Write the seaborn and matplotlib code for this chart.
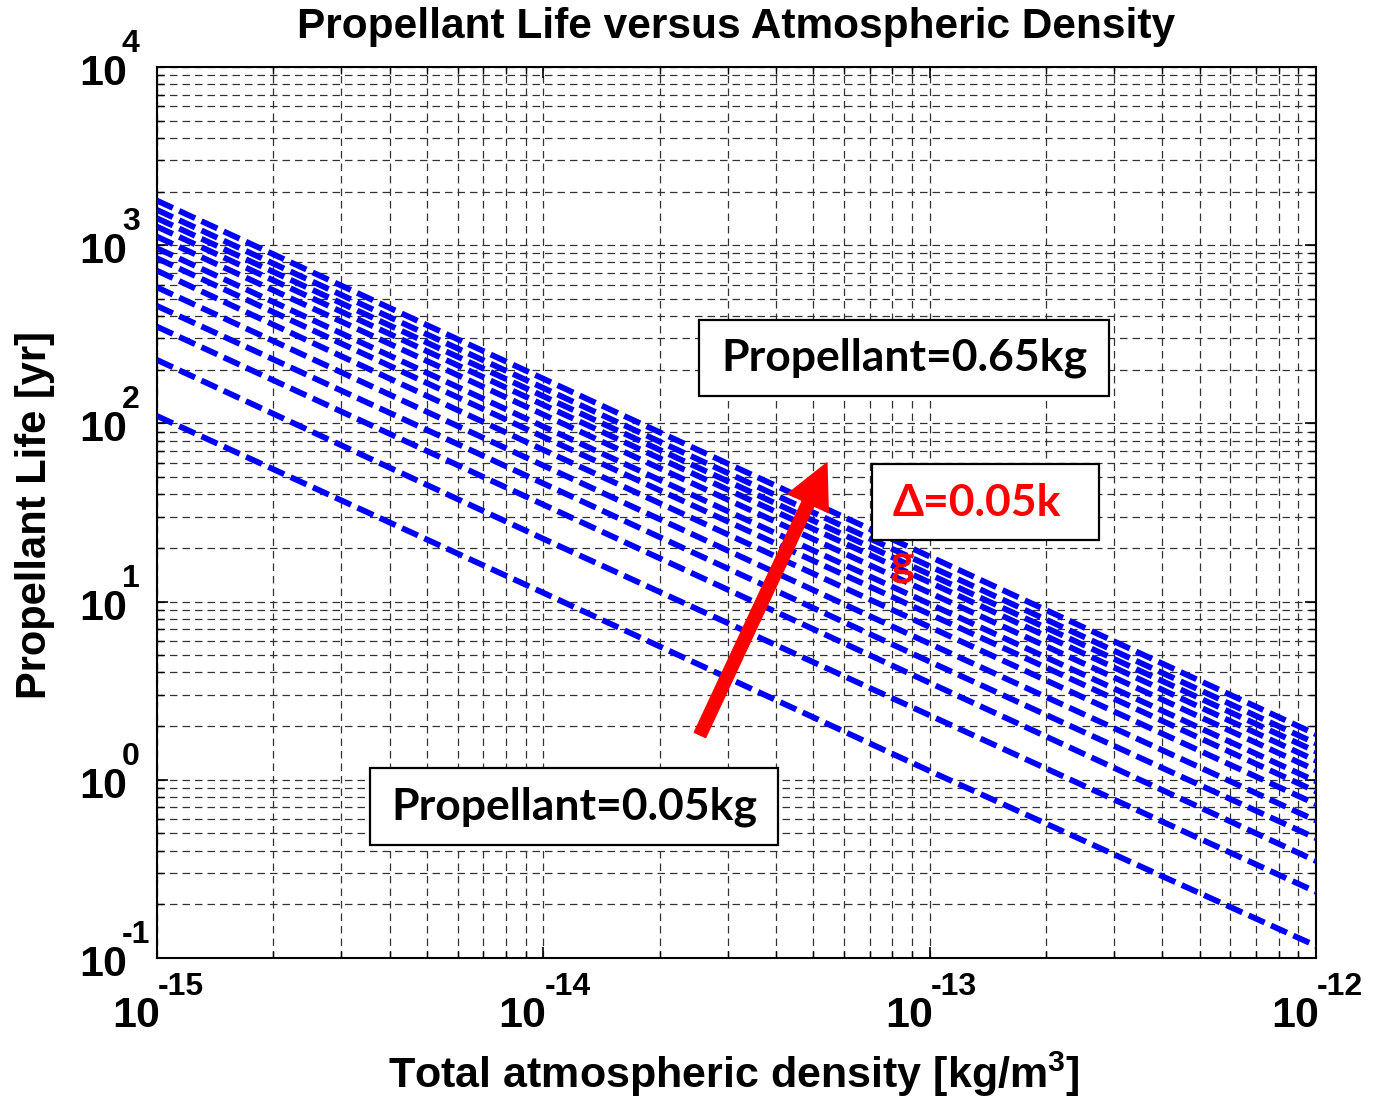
import numpy as np
import pandas as pd
import matplotlib
matplotlib.use("Agg")
import matplotlib.pyplot as plt
import matplotlib.transforms as mtransforms
import seaborn as sns
from matplotlib.patches import Rectangle
from matplotlib.ticker import LogLocator, NullFormatter, FixedLocator

# ---- data ----
density = [1e-15, 1e-14, 1e-13, 1e-12]          # kg/m^3
propellant = [0.05, 0.10, 0.15, 0.20, 0.25, 0.30, 0.35,
              0.40, 0.45, 0.50, 0.55, 0.60, 0.65]  # kg
life_at_1e15 = [110, 227, 349, 456, 580, 719, 844, 961, 1116, 1270, 1416, 1577, 1778]
life_at_1e14 = [11.2, 22.5, 35, 46, 58, 71, 84, 96, 112, 127, 142, 158, 178]
life_at_1e13 = [1.12, 2.3, 3.5, 4.6, 5.8, 7.2, 8.5, 9.7, 11.2, 12.8, 14.2, 15.8, 17.9]
life_at_1e12 = [0.117, 0.235, 0.35, 0.47, 0.59, 0.73, 0.86, 0.98, 1.13, 1.28, 1.44, 1.6, 1.8]

x_tick_exponents = ["-15", "-14", "-13", "-12"]
y_tick_values = [1e-1, 1e0, 1e1, 1e2, 1e3, 1e4]
y_tick_exponents = ["-1", "0", "1", "2", "3", "4"]

title = "Propellant Life versus Atmospheric Density"
xlabel = r"Total atmospheric density [kg/m$^{3}$]"
ylabel = "Propellant Life [yr]"
box_top = "Propellant=0.65kg"
box_bottom = "Propellant=0.05kg"
box_delta = "Δ=0.05k"
delta_tail = "g"

rows = []
for i, m in enumerate(propellant):
    vals = [life_at_1e15[i], life_at_1e14[i], life_at_1e13[i], life_at_1e12[i]]
    for d, v in zip(density, vals):
        rows.append({"density": d, "life": v, "prop": m})
df = pd.DataFrame(rows)

sns.set_style("white")
plt.rcParams["font.family"] = ["Liberation Sans", "DejaVu Sans"]
plt.rcParams["font.weight"] = "bold"
plt.rcParams["text.color"] = "black"
plt.rcParams["axes.labelcolor"] = "black"
plt.rcParams["xtick.color"] = "black"
plt.rcParams["ytick.color"] = "black"
plt.rcParams["axes.unicode_minus"] = False
plt.rcParams["mathtext.fontset"] = "custom"
plt.rcParams["mathtext.rm"] = "Liberation Sans:bold"
plt.rcParams["mathtext.it"] = "Liberation Sans:bold"
plt.rcParams["mathtext.bf"] = "Liberation Sans:bold"
plt.rcParams["mathtext.default"] = "bf"

fig = plt.figure(figsize=(13.73, 11.03), dpi=100)
ax = fig.add_axes([0.1143, 0.1315, 0.8442, 0.8078])

sns.lineplot(data=df, x="density", y="life", units="prop", estimator=None,
             color="#0000FF", linewidth=4.2, ax=ax, legend=False, zorder=3)
for ln in ax.get_lines():
    ln.set_dashes((3.0, 1.2))

ax.set_xscale("log")
ax.set_yscale("log")
ax.set_xlim(1e-15, 1e-12)
ax.set_ylim(1e-1, 1e4)

ax.xaxis.set_major_locator(FixedLocator(density))
ax.yaxis.set_major_locator(FixedLocator(y_tick_values))
ax.xaxis.set_minor_locator(LogLocator(base=10, subs=np.arange(2, 10), numticks=100))
ax.yaxis.set_minor_locator(LogLocator(base=10, subs=np.arange(2, 10), numticks=100))
ax.xaxis.set_major_formatter(NullFormatter())
ax.yaxis.set_major_formatter(NullFormatter())
ax.xaxis.set_minor_formatter(NullFormatter())
ax.yaxis.set_minor_formatter(NullFormatter())

ax.grid(which="both", color="#333333", linestyle=(0, (6, 4)), linewidth=0.9, zorder=0)
ax.set_axisbelow(True)

ax.tick_params(which="both", direction="in", top=True, right=True, bottom=True, left=True)
ax.tick_params(which="major", length=8, width=1.2)
ax.tick_params(which="minor", length=5, width=1.0)
for s in ax.spines.values():
    s.set_color("black")
    s.set_linewidth(1.5)

# tick labels: big "10" plus raised exponent
base_fs = 31
exp_fs = 23
xt = ax.get_xaxis_transform()
yt = ax.get_yaxis_transform()
for d, e in zip(density, x_tick_exponents):
    t1 = mtransforms.offset_copy(xt, fig=fig, x=3, y=-69, units="dots")
    ax.text(d, 0, "10", transform=t1, ha="right", va="baseline",
            fontsize=base_fs, fontweight="bold", clip_on=False)
    t2 = mtransforms.offset_copy(xt, fig=fig, x=1, y=-37, units="dots")
    ax.text(d, 0, e, transform=t2, ha="left", va="baseline",
            fontsize=exp_fs, fontweight="bold", clip_on=False)
for v, e in zip(y_tick_values, y_tick_exponents):
    t1 = mtransforms.offset_copy(yt, fig=fig, x=-30, y=-18, units="dots")
    ax.text(0, v, "10", transform=t1, ha="right", va="baseline",
            fontsize=base_fs, fontweight="bold", clip_on=False)
    t2 = mtransforms.offset_copy(yt, fig=fig, x=-35, y=15, units="dots")
    ax.text(0, v, e, transform=t2, ha="left", va="baseline",
            fontsize=exp_fs, fontweight="bold", clip_on=False)

ax.set_title(title, fontsize=30.5, fontweight="bold", pad=21)
ax.set_xlabel(xlabel, fontsize=31, fontweight="bold")
ax.xaxis.label.set_va("baseline")
ax.xaxis.set_label_coords(0.498, -0.1459)
ax.set_ylabel(ylabel, fontsize=30, fontweight="bold")
ax.yaxis.label.set_va("bottom")
ax.yaxis.set_label_coords(-0.088, 0.497)

box_font = ["Lato", "Open Sans", "DejaVu Sans"]
for (x0, y0, x1, y1) in [(0.4676, 0.6308, 0.8214, 0.7160),
                         (0.1838, 0.1268, 0.5358, 0.2132),
                         (0.6169, 0.4691, 0.8128, 0.5544)]:
    ax.add_patch(Rectangle((x0, y0), x1 - x0, y1 - y0, transform=ax.transAxes,
                           facecolor="white", edgecolor="black", linewidth=1.6, zorder=6))
ax.text(0.6445, 0.6734, box_top, transform=ax.transAxes, ha="center", va="center",
        fontsize=32, fontweight="bold", family=box_font, color="black", zorder=7)
ax.text(0.3598, 0.1700, box_bottom, transform=ax.transAxes, ha="center", va="center",
        fontsize=32, fontweight="bold", family=box_font, color="black", zorder=7)
ax.text(0.635, 0.5107, box_delta, transform=ax.transAxes, ha="left", va="center",
        fontsize=32, fontweight="bold", family=box_font, color="#FF0000", zorder=7)
ax.text(0.6437, 0.4430, delta_tail, transform=ax.transAxes, ha="center", va="center",
        fontsize=32, fontweight="bold", family=box_font, color="#FF0000", zorder=7)

ax.annotate("", xy=(0.578, 0.5556), xytext=(0.4685, 0.2503),
            xycoords="axes fraction", textcoords="axes fraction",
            arrowprops=dict(arrowstyle="simple,head_width=1.6,head_length=1.6,tail_width=0.45",
                            mutation_scale=20, facecolor="#FF0000", edgecolor="#FF0000",
                            shrinkA=0, shrinkB=0),
            zorder=8)

fig.savefig("out.png", dpi=100, facecolor="white")
